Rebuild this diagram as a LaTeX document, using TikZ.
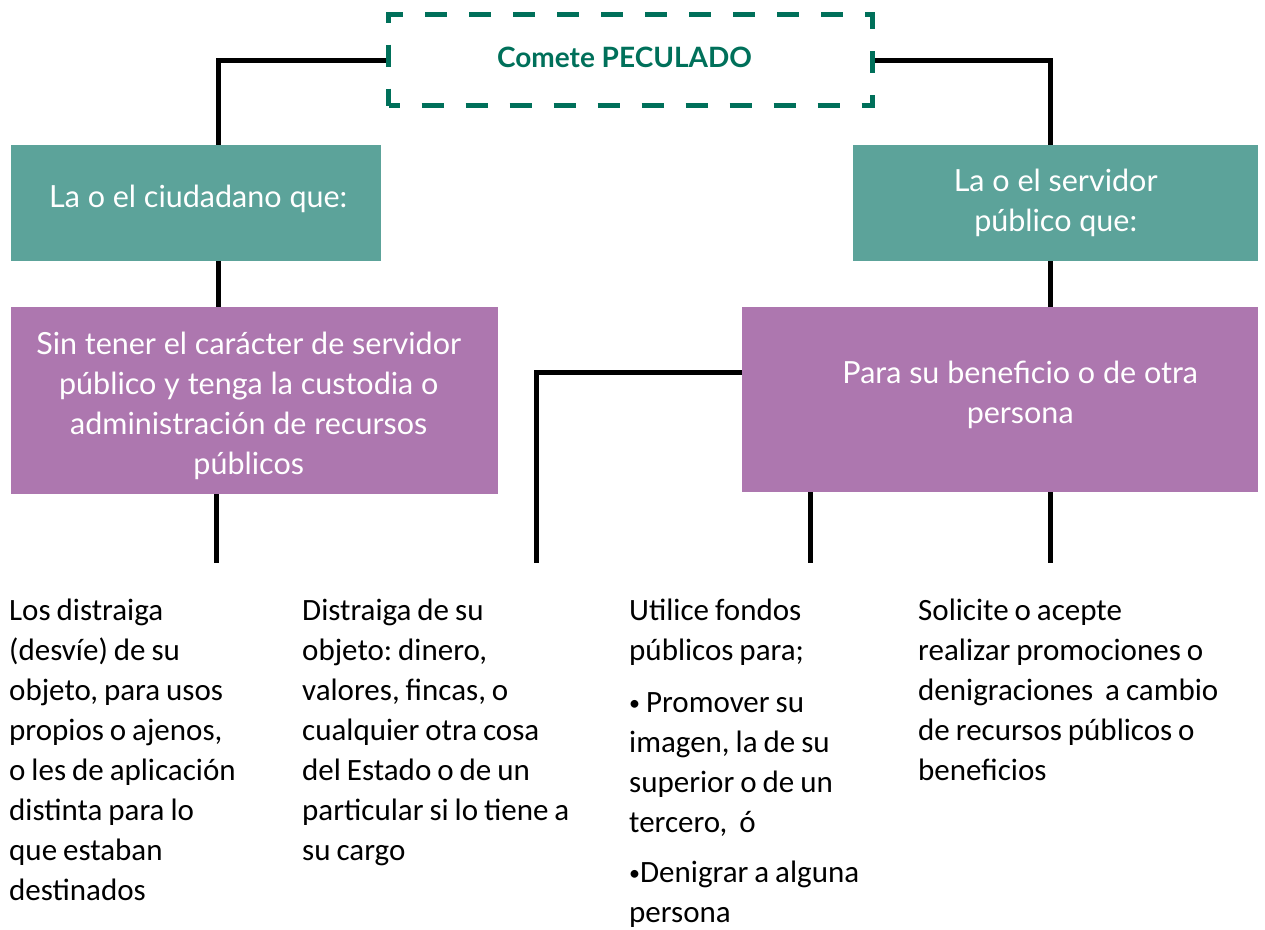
\documentclass[tikz,border=0pt]{standalone}
\usepackage{fontspec}
\setmainfont{Carlito}[WordSpace=0.85]
\newfontfamily\boxfont{Lato}
\definecolor{pecgreen}{HTML}{00705A}
\definecolor{tealfill}{HTML}{5CA39A}
\definecolor{purplefill}{HTML}{AD77AF}
\newcommand{\smallbullet}{{\fontsize{22}{40}\selectfont\raisebox{2pt}{•}}}
\newcommand{\shiftdown}[2]{\raisebox{0pt}[\dimexpr\height+#1\relax][\depth]{#2}}
\newcommand{\shiftup}[2]{\raisebox{0pt}[\height][\dimexpr\depth+#1\relax]{#2}}
\protected\def\bodysetup{\frenchspacing\fontsize{31}{40}\selectfont}
\tikzset{
  conn/.style={draw=black, line width=5pt},
  tealbox/.style={fill=tealfill, text=white, anchor=north west, inner sep=0pt,
    align=center, font=\boxfont\fontsize{30.5}{40}\selectfont},
  purplebox/.style={fill=purplefill, text=white, anchor=north west, inner sep=0pt,
    align=center, font=\boxfont\fontsize{30.5}{40}\selectfont},
  bodytext/.style={anchor=base west, inner sep=0pt, align=flush left, text width=#1,
    font=\bodysetup, text=black},
}
\begin{document}
\begin{tikzpicture}[x=1pt,y=-1pt]
\useasboundingbox (0,0) rectangle (1265,929);
% title
\node[draw=pecgreen, line width=5pt, dash pattern=on 22pt off 22pt, dash phase=11pt,
  minimum width=484pt, minimum height=91pt, anchor=north west, inner sep=0pt,
  text=pecgreen, font=\boxfont\bfseries\fontsize{28}{32}\selectfont]
  (pec) at (386,12) {\hspace*{-12pt}\raisebox{6pt}{Comete PECULADO}};
% boxes
\node[tealbox, minimum width=370pt, minimum height=116pt] (ciud) at (11,145)
  {\hspace*{4pt}\raisebox{14pt}{La o el ciudadano que:}};
\node[tealbox, minimum width=405pt, minimum height=116pt] (serv) at (853,145)
  {La o el servidor\\público que:};
\node[purplebox, minimum width=487pt, minimum height=187pt] (sin) at (11,307)
  {\hspace*{-12pt}\shiftdown{12pt}{\begin{tabular}{@{}c@{}}Sin tener el carácter de servidor\\público y tenga la custodia o\\administración de recursos\\públicos\end{tabular}}};
\node[purplebox, minimum width=516pt, minimum height=185pt] (para) at (742,307)
  {\hspace*{40pt}\shiftup{8pt}{\begin{tabular}{@{}c@{}}Para su beneficio o de otra\\persona\end{tabular}}};
% bend and end coordinates
\coordinate (c1) at (218,0);
\coordinate (c2) at (1050,0);
\coordinate (e1) at (216,563);
\coordinate (k) at (536,372);
\coordinate (e2) at (536,563);
\coordinate (e3) at (810,563);
\coordinate (e4) at (1050,563);
% connectors
\draw[conn] (pec.west) -| (ciud.north -| c1);
\draw[conn] (pec.east) -| (serv.north -| c2);
\draw[conn] (ciud.south -| c1) -- (sin.north -| c1);
\draw[conn] (serv.south -| c2) -- (para.north -| c2);
\draw[conn] (sin.south -| e1) -- (e1);
\draw[conn] (para.west |- k) -- (k) -- (e2);
\draw[conn] (para.south -| e3) -- (e3);
\draw[conn] (para.south -| e4) -- (e4);
% texts
\node[bodytext=280pt] (t1) at (9,620)
  {Los distraiga\\(desvíe) de su\\objeto, para usos\\propios o ajenos,\\o les de aplicación\\distinta para lo\\que estaban\\destinados};
\node[bodytext=310pt] (t2) at (302,620)
  {Distraiga de su\\objeto: dinero,\\valores, fincas, o\\cualquier otra cosa\\del Estado o de un\\particular si lo tiene a\\su cargo};
\node[bodytext=290pt] (t3) at (629,620)
  {Utilice fondos\\públicos para;\\[12pt]\smallbullet\ Promover su\\imagen, la de su\\superior o de un\\tercero,\ \ ó\\[10pt]\smallbullet Denigrar a alguna\\persona};
\node[bodytext=340pt] (t4) at (918,620)
  {Solicite o acepte\\realizar promociones o\\denigraciones\ \ a cambio\\de recursos públicos o\\beneficios};
\end{tikzpicture}
\end{document}
